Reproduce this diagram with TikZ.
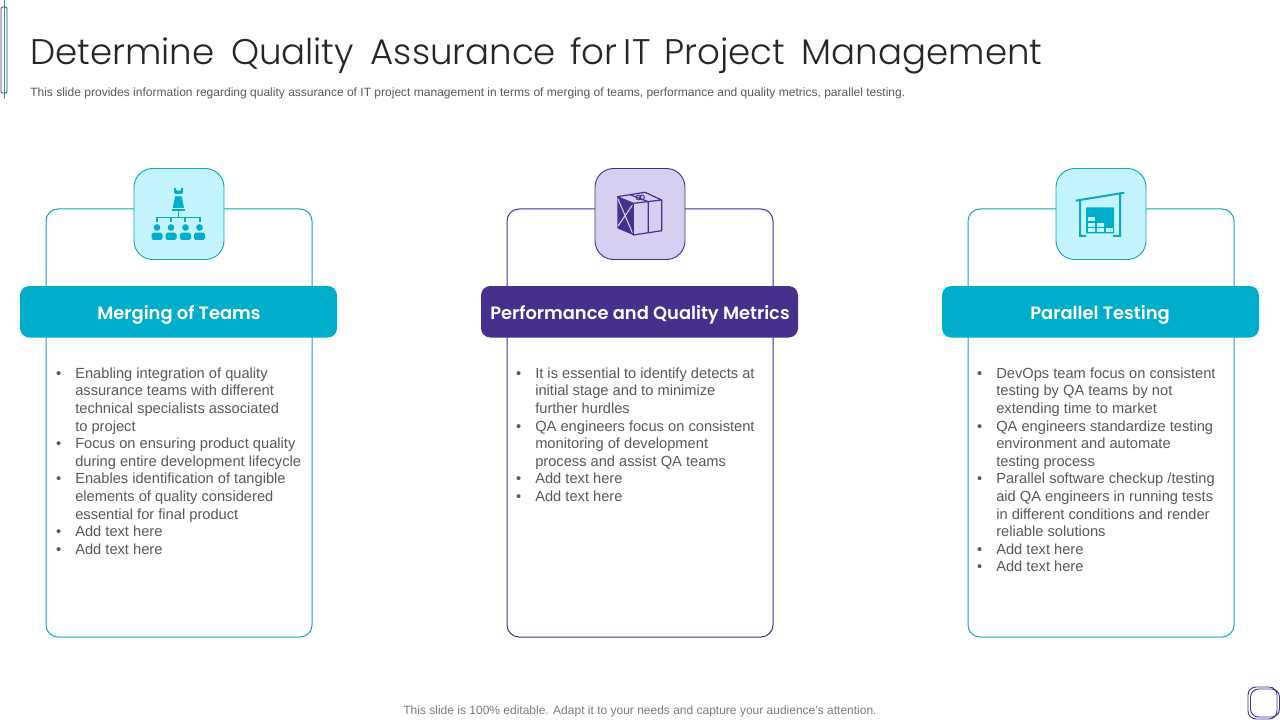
\documentclass[tikz,border=0pt]{standalone}
\usepackage{fontspec}
\usepackage{tikz}
\setmainfont{Liberation Sans}
\newfontfamily\titlefont[WordSpace=1.7]{Poppins Light}
\newfontfamily\headfont{Poppins SemiBold}
\definecolor{tealc}{HTML}{00AECB}
\definecolor{tealline}{HTML}{12A5BC}
\definecolor{purc}{HTML}{46308C}
\definecolor{tealsoft}{HTML}{C4F5FE}
\definecolor{pursoft}{HTML}{D6CFF0}
\definecolor{bodygrey}{HTML}{595959}
\newcommand{\bul}{\llap{\textbullet\hspace{10.5pt}}}
\tikzset{
	cardbox/.style={draw=#1,line width=0.75pt,rounded corners=9pt,fill=white},
	headbox/.style={fill=#1,rounded corners=7pt},
	iconbox/.style={draw=#1,line width=0.7pt,rounded corners=14pt},
	headtext/.style={text=white,font=\headfont\fontsize{13.4pt}{17pt}\selectfont},
	bodytext/.style={text=bodygrey,anchor=north west,inner sep=0pt,align=left,font=\fontsize{11pt}{13.2pt}\selectfont}
}
\begin{document}
\begin{tikzpicture}[x=0.75pt,y=-0.75pt]
	\useasboundingbox (0,0) rectangle (1280,720);
	\foreach \i/\cx/\col/\soft/\lin in {1/179/tealc/tealsoft/tealline,2/640/purc/pursoft/purc,3/1101/tealc/tealsoft/tealline} {
		\draw[cardbox=\lin] (\cx-133,209) rectangle (\cx+133,637);
		\fill[headbox=\col] (\cx-159,286) rectangle (\cx+158,337.5);
		\draw[iconbox=\lin,fill=\soft] (\cx-45,168.5) rectangle (\cx+45,259.5);
	}
	\node[headtext] (head1) at (179,314.5) {Merging of Teams};
	\node[headtext] (head2) at (640,314.5) {Performance and Quality Metrics};
	\node[headtext] (head3) at (1100,314.5) {Parallel Testing};
	\node[anchor=base west,inner sep=0pt,text=black!85,font=\titlefont\fontsize{26.7pt}{32pt}\selectfont] (title) at (30,65) {Determine Quality Assurance\hspace{-2pt} for\hspace{-7.5pt} IT\hspace{-2pt} Project Management};
	\node[anchor=base west,inner sep=0pt,text=bodygrey,font=\fontsize{9.02pt}{11pt}\selectfont] (subtitle) at (30,97) {This slide provides information regarding quality assurance of IT project management in terms of merging of teams, performance and quality metrics, parallel testing.};
	\node[bodytext] (text1) at (75,367.5) {\bul Enabling integration of quality\\assurance teams with different\\technical specialists associated\\to project\\\bul Focus on ensuring product quality\\during entire development lifecycle\\\bul Enables identification of tangible\\elements of quality considered\\essential for final product\\\bul Add text here\\\bul Add text here};
	\node[bodytext] (text2) at (535,367.5) {\bul It is essential to identify detects at\\initial stage and to minimize\\further hurdles\\\bul QA engineers focus on consistent\\monitoring of development\\process and assist QA teams\\\bul Add text here\\\bul Add text here};
	\node[bodytext] (text3) at (996,367.5) {\bul DevOps team focus on consistent\\testing by QA teams by not\\extending time to market\\\bul QA engineers standardize testing\\environment and automate\\testing process\\\bul Parallel software checkup /testing\\aid QA engineers in running tests\\in different conditions and render\\reliable solutions\\\bul Add text here\\\bul Add text here};
	\node[text=bodygrey!80,inner sep=0pt,font=\fontsize{9pt}{11pt}\selectfont] (foot) at (640,711) {This slide is 100\% editable. Adapt it to your needs and capture your audience's attention.};
	% corner marks
	\draw[tealline,line width=0.7pt] (4.7,0) -- (4.7,99);
	\draw[purc,line width=0.7pt,rounded corners=1pt] (1,7) rectangle (7,93);
	\draw[purc,line width=0.7pt,rounded corners=6pt] (1248,687) rectangle (1277,719);
	\draw[purc,line width=0.7pt,rounded corners=6pt] (1250.5,689) rectangle (1279.5,717);
	% team icon
	\fill[tealc] (174.2,188) -- (176.2,188) -- (176.2,190) .. controls (178,191.3) and (179.5,191.3) .. (181.2,190) -- (181.2,188) -- (183.2,188) -- (183.2,192.5) -- (181.7,194) -- (175.7,194) -- (174.2,192.5) -- cycle;
	\fill[tealc] (175.2,196.5) -- (181.7,196.5) -- (184,208) -- (172.7,208) -- cycle;
	\draw[tealc,line width=1.3pt] (172,210) -- (185,210);
	\draw[tealc,line width=1.1pt] (178.5,210) -- (178.5,217) (157,222) -- (157,217.3) -- (200,217.3) -- (200,222) (171,217.3) -- (171,222) (185,217.3) -- (185,222);
	\foreach \p in {157,171,185.5,199.5} {
		\fill[tealc] (\p,227.5) circle (2.5pt);
		\fill[tealc,rounded corners=1.2pt] (\p-5.5,240) -- (\p-5.5,232.7) -- (\p+5.5,232.7) -- (\p+5.5,240) -- cycle;
	}
	% box icon
	\fill[purc] (617.3,196.7) -- (633.3,203.3) -- (633.3,235) -- (617.3,228.3) -- cycle;
	\draw[pursoft,line width=0.8pt] (618,199) -- (632.5,233) (632.5,205) -- (618,226);
	\draw[purc,line width=0.9pt,line join=round] (617.3,196.7) -- (645,192.3) -- (661.7,200) -- (633.3,203.3) -- cycle (633.3,203.3) -- (633.3,235) -- (661.7,230.7) -- (661.7,200) (648.3,201.7) -- (648.3,233) (630,194.7) -- (648.3,201.7);
	\draw[purc,line width=0.7pt] (638.5,197.5) circle (1.8pt) (642,197.5) circle (1.8pt);
	% warehouse icon
	\draw[tealline,line width=1.5pt] (1075.7,200.7) -- (1124.3,192.7) (1080,200) -- (1080,236) -- (1086,236) (1120,193.5) -- (1120,236) -- (1113,236);
	\fill[tealc,rounded corners=0.5pt] (1086,207.3) rectangle (1114,233.5);
	\foreach \bx/\by/\bw in {1088/217/7,1088/223/7,1088/228.5/7,1097/223/7,1097/228.5/7,1105.5/228.5/7} {
		\fill[tealsoft] (\bx,\by) rectangle (\bx+\bw,\by+3.8);
	}
\end{tikzpicture}
\end{document}
